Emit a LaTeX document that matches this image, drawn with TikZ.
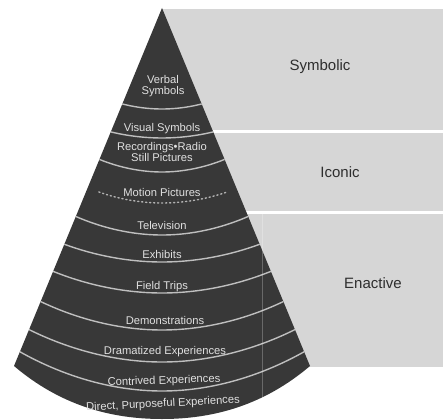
\documentclass[tikz,border=0pt]{standalone}
\usepackage{fontspec}
\setmainfont{Liberation Sans}
\begin{document}
\begin{tikzpicture}[x=1pt,y=-1pt,
  conelabel/.style={text=black!12, font=\fontsize{11.2}{12}\selectfont, inner sep=0pt, align=center},
  bandlabel/.style={text=black!82, font=\fontsize{15}{17}\selectfont, inner sep=0pt},
  band/.style={fill=black!16, draw=none},
  divider/.style={draw=black!25, line width=1.4pt},
  dotdivider/.style={draw=black!30, line width=1.4pt, dash pattern=on 1.2pt off 2.8pt, line cap=round}]
\useasboundingbox (0,0) rectangle (443,419);
% background bands
\fill[band] (162,9) rectangle (443,130.5);
\fill[band] (162,133) rectangle (443,211);
\fill[band] (162,214) rectangle (443,367);
% cone
\coordinate (apex) at (162,8);
\coordinate (bl) at (14,366);
\coordinate (br) at (310,366);
\coordinate (bb) at (162,419);
\fill[black!78] (apex) -- (bl) .. controls (60,405) and (110,419) .. (bb) .. controls (214,419) and (264,405) .. (br) -- cycle;
% dividing arcs
\begin{scope}
\clip (apex) -- (bl) .. controls (60,405) and (110,419) .. (bb) .. controls (214,419) and (264,405) .. (br) -- cycle;
\foreach \ye/\yc in {103/109,131/138,158/172,215/235,243/262,270/293,300/330,328/362,350/391}{
  \draw[divider] ({162-0.413*(\ye-8)-4},\ye) parabola bend (162,\yc) ({162+0.413*(\ye-8)+4},\ye);
}
\draw[dotdivider] ({162-0.413*(190-8)+12},192) parabola bend (162,203) ({162+0.413*(190-8)-10},192);
\end{scope}
% faint vertical line
\coordinate (vt) at (262,213);
\coordinate (vb) at (262,408);
\draw[white, opacity=0.25, line width=1pt] (vt) -- (vb);
% cone labels
\node[conelabel] (verbal) at (163,86) {Verbal\\[-1pt]Symbols};
\node[conelabel] (visual) at (162,129) {Visual Symbols};
\node[conelabel] (record) at (162,152) {Recordings•Radio\\[-1.5pt]Still Pictures};
\node[conelabel] (motion) at (162,192) {Motion Pictures};
\node[conelabel] (tv) at (162,225) {Television};
\node[conelabel] (exhibits) at (162,254) {Exhibits};
\node[conelabel] (field) at (162,287) {Field Trips};
\node[conelabel] (demo) at (165,320) {Demonstrations};
\node[conelabel] (dram) at (165,352) {Dramatized Experiences};
\node[conelabel, rotate=2] (contr) at (164,381) {Contrived Experiences};
\node[conelabel, rotate=3] (direct) at (163,404) {Direct, Purposeful Experiences};
% band labels
\node[bandlabel] (symbolic) at (320,67) {Symbolic};
\node[bandlabel] (iconic) at (340,172) {Iconic};
\node[bandlabel] (enactive) at (373,283) {Enactive};
\end{tikzpicture}
\end{document}
